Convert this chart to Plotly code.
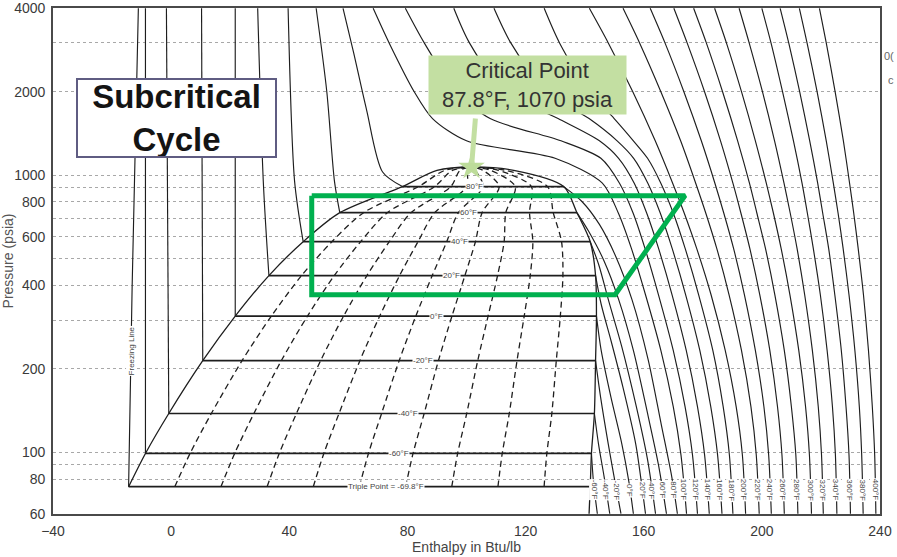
import numpy as np
import plotly.graph_objects as go

# ---------------- axis ticks ----------------
X_TICKS = [-40, 0, 40, 80, 120, 160, 200, 240]
Y_TICKS_LABELED = [60, 80, 100, 200, 400, 600, 800, 1000, 2000, 4000]
Y_GRID_ONLY = [90, 300, 500, 700, 900, 3000]

# ---------------- saturation dome ----------------
SAT_LABELS = ["Triple Point = -69.8°F", "-60°F", "-40°F", "-20°F", "0°F", "20°F", "40°F", "60°F", "80°F"]
SAT_P = [75.1, 99, 138, 214, 310, 434, 575, 732, 909]          # psia
SAT_HL = [-14.4, -8.7, -0.8, 10.7, 21.7, 33.1, 44.7, 57.1, 78.3]  # sat. liquid, Btu/lb
SAT_HV = [141.9, 142.3, 143.3, 143.7, 144.0, 143.7, 141.9, 137.4, 132.9]  # sat. vapour
SAT_LABEL_H = [72.7, 77.3, 80.3, 85.3, 90.0, 95.0, 97.7, 100.7, 102.7]

DOME_TOP_P = [1040]
DOME_TOP_HL = [90.0]
DOME_TOP_HV = [116.0]
CRIT_H = 101.7
CRIT_P = 1070
SUBLIM_H = [141.5]
SUBLIM_P = [60]

FREEZE_H = [-14.4, -13.2, -11.1]
FREEZE_P = [75.1, 400, 4000]

QUALITY = [0.1, 0.2, 0.3, 0.4, 0.5, 0.6, 0.7, 0.8, 0.9]

# ---------------- sub-cooled liquid branches (sat. liquid -> top) ----------------
LIQ_M60_H = [-8.7, -8.7];              LIQ_M60_P = [99, 4000]
LIQ_M40_H = [-0.8, -1.6];              LIQ_M40_P = [138, 4000]
LIQ_M20_H = [10.7, 10.3];              LIQ_M20_P = [214, 4000]
LIQ_0_H = [21.7, 21.7];                LIQ_0_P = [310, 4000]
LIQ_20_H = [33.1, 31.2, 29.3];         LIQ_20_P = [434, 949, 4000]
LIQ_40_H = [44.7, 41.8, 39.6];         LIQ_40_P = [575, 949, 4000]
LIQ_60_H = [57.1, 55.3, 52.7, 49.1];   LIQ_60_P = [732, 949, 2000, 4000]
LIQ_80_H = [78.3, 71.6, 66.2, 61.8, 58.2]; LIQ_80_P = [909, 1026, 1714, 2760, 4000]

# ---------------- superheated vapour branches (sat. vapour -> bottom) ----------------
VAP_M60_H = [142.3, 143.0, 144.3];                        VAP_M60_P = [99, 78, 60]
VAP_M40_H = [143.3, 144.7, 146.6, 148.5];                 VAP_M40_P = [138, 107, 81.5, 60]
VAP_M20_H = [143.7, 145.4, 148.0, 150.3, 152.3];          VAP_M20_P = [214, 158, 107, 78, 60]
VAP_0_H = [144.0, 145.6, 148.9, 152.6, 155.0, 156.5];     VAP_0_P = [310, 233, 158, 107, 78, 60]
VAP_20_H = [143.7, 145.6, 149.0, 153.0, 157.3, 159.2, 160.6]; VAP_20_P = [434, 342, 251, 171, 107, 78, 60]
VAP_40_H = [141.9, 144.8, 148.0, 152.5, 157.5, 161.3, 164.0]; VAP_40_P = [575, 474, 356, 242, 146, 94, 60]
VAP_60_H = [137.4, 141.5, 146.5, 151.5, 156.5, 161.5, 165.0, 167.7]; VAP_60_P = [732, 623, 492, 356, 233, 135, 90, 60]
VAP_80_H = [132.9, 139.0, 145.0, 150.5, 156.0, 161.5, 166.0, 169.5, 171.4]
VAP_80_P = [909, 805, 664, 510, 356, 216, 125, 81.5, 60]

# ---------------- supercritical isotherms (top -> bottom) ----------------
P_SC_LOW = [4000, 3000, 2000, 1600, 1330, 1150, 935, 730, 545, 370, 233, 146, 98, 60]
H_100F = [68.4, 73.8, 82.3, 88.5, 100.0, 130.0, 146.0, 151.4, 155.8, 160.6, 165.8, 170.0, 172.6, 174.5]
H_120F = [79.3, 85.7, 96.5, 108.0, 132.0, 145.5, 151.8, 156.4, 160.4, 165.0, 170.0, 174.0, 176.5, 178.2]
H_140F = [95.7, 101.0, 113.0, 131.0, 145.0, 151.5, 156.8, 161.0, 165.0, 169.6, 174.4, 178.2, 180.6, 182.2]
H_160F = [109.3, 115.0, 127.0, 141.5, 151.0, 156.6, 161.4, 165.6, 169.6, 174.2, 179.0, 182.7, 185.0, 186.5]
H_180F = [126.3, 131.5, 141.5, 150.0, 156.5, 161.3, 165.8, 170.0, 174.0, 178.6, 183.4, 186.9, 189.0, 190.2]

P_SC_HIGH = [4000, 3000, 2000, 1330, 935, 730, 545, 370, 233, 146, 98, 60]
H_200F = [141.6, 148.0, 156.3, 163.9, 169.8, 173.7, 177.9, 182.8, 187.6, 191.3, 193.4, 194.5]
H_220F = [153.0, 158.6, 165.8, 172.5, 177.6, 181.0, 184.7, 188.9, 193.1, 196.3, 198.1, 199.1]
H_240F = [162.2, 167.2, 173.6, 179.5, 184.1, 187.1, 190.4, 194.1, 197.8, 200.7, 202.3, 203.2]
H_260F = [170.2, 174.7, 180.6, 186.0, 190.2, 192.9, 195.9, 199.3, 202.7, 205.3, 206.8, 207.6]
H_280F = [176.9, 181.2, 186.7, 191.8, 195.8, 198.3, 201.2, 204.4, 207.6, 210.0, 211.5, 212.2]
H_300F = [184.0, 188.0, 193.1, 197.8, 201.5, 203.9, 206.5, 209.5, 212.5, 214.8, 216.1, 216.8]
H_320F = [192.3, 195.7, 200.2, 204.3, 207.5, 209.6, 211.9, 214.5, 217.1, 219.1, 220.2, 220.8]
H_340F = [200.0, 203.1, 207.0, 210.7, 213.6, 215.4, 217.4, 219.8, 222.1, 223.9, 224.9, 225.4]
H_360F = [206.2, 209.1, 212.8, 216.2, 218.9, 220.6, 222.6, 224.7, 226.9, 228.5, 229.5, 230.0]
H_380F = [212.7, 215.3, 218.7, 221.8, 224.2, 225.8, 227.5, 229.5, 231.5, 233.0, 233.8, 234.3]
H_400F = [219.5, 221.8, 224.8, 227.6, 229.7, 231.1, 232.6, 234.4, 236.1, 237.4, 238.2, 238.6]

# highlighted cycle region (green trapezoid)
TRAP_H = [47.6, 174.0, 150.3, 47.6, 47.6]
TRAP_P = [843, 843, 370, 370, 843]

LABEL_P = 73  # pressure at which the vertical isotherm labels sit

# ---------------- build figure ----------------
INK = "#1e1e1e"
FONT = "Arial, Liberation Sans, sans-serif"
fig = go.Figure()


def add_line(h, p, width=1.15, dash=None, shape="spline", color=INK):
    fig.add_trace(go.Scatter(
        x=h, y=p, mode="lines", hoverinfo="skip", showlegend=False,
        line=dict(color=color, width=width, dash=dash, shape=shape,
                  smoothing=0.8 if shape == "spline" else None)))


# freezing line
add_line(FREEZE_H, FREEZE_P, shape="linear")

# dome
dome_h = SAT_HL + DOME_TOP_HL + [CRIT_H] + DOME_TOP_HV[::-1] + SAT_HV[::-1] + SUBLIM_H
dome_p = SAT_P + DOME_TOP_P + [CRIT_P] + DOME_TOP_P[::-1] + SAT_P[::-1] + SUBLIM_P
add_line(dome_h, dome_p, width=1.3)

# constant-quality lines inside the dome
for q in QUALITY:
    qh = [hl + q * (hv - hl) for hl, hv in zip(SAT_HL + DOME_TOP_HL, SAT_HV + DOME_TOP_HV)] + [CRIT_H]
    qp = SAT_P + DOME_TOP_P + [CRIT_P]
    add_line(qh, qp, width=1.3, dash="6px,4px")

# two-phase isotherms (horizontal)
for hl, hv, p in zip(SAT_HL, SAT_HV, SAT_P):
    add_line([hl, hv], [p, p], width=1.7, shape="linear")

# liquid branches
for h, p in [(LIQ_M60_H, LIQ_M60_P), (LIQ_M40_H, LIQ_M40_P), (LIQ_M20_H, LIQ_M20_P),
             (LIQ_0_H, LIQ_0_P), (LIQ_20_H, LIQ_20_P), (LIQ_40_H, LIQ_40_P),
             (LIQ_60_H, LIQ_60_P), (LIQ_80_H, LIQ_80_P)]:
    add_line(h, p)

superheat = [
    (-60, VAP_M60_H, VAP_M60_P), (-40, VAP_M40_H, VAP_M40_P), (-20, VAP_M20_H, VAP_M20_P),
    (0, VAP_0_H, VAP_0_P), (20, VAP_20_H, VAP_20_P), (40, VAP_40_H, VAP_40_P),
    (60, VAP_60_H, VAP_60_P), (80, VAP_80_H, VAP_80_P),
    (100, H_100F, P_SC_LOW), (120, H_120F, P_SC_LOW), (140, H_140F, P_SC_LOW),
    (160, H_160F, P_SC_LOW), (180, H_180F, P_SC_LOW),
    (200, H_200F, P_SC_HIGH), (220, H_220F, P_SC_HIGH), (240, H_240F, P_SC_HIGH),
    (260, H_260F, P_SC_HIGH), (280, H_280F, P_SC_HIGH), (300, H_300F, P_SC_HIGH),
    (320, H_320F, P_SC_HIGH), (340, H_340F, P_SC_HIGH), (360, H_360F, P_SC_HIGH),
    (380, H_380F, P_SC_HIGH), (400, H_400F, P_SC_HIGH),
]
annotations = []
for t, h, p in superheat:
    add_line(h, p)
    lp = np.log10(np.array(p, dtype=float))[::-1]
    lx = float(np.interp(np.log10(LABEL_P), lp, np.array(h, dtype=float)[::-1]))
    annotations.append(dict(x=lx, y=np.log10(LABEL_P), xref="x", yref="y", text=f"{t}°F",
                            textangle=90, showarrow=False, bgcolor="white", borderpad=0,
                            font=dict(size=8, color="#444", family=FONT)))

# green cycle outline
fig.add_trace(go.Scatter(x=TRAP_H, y=TRAP_P, mode="lines", hoverinfo="skip", showlegend=False,
                         line=dict(color="#00b04f", width=5)))

# critical point burst
fig.add_trace(go.Scatter(x=[CRIT_H], y=[CRIT_P], mode="markers", hoverinfo="skip", showlegend=False,
                         marker=dict(symbol="star", size=20, color="#bddc9a",
                                     line=dict(width=0))))

# labels on two-phase isotherms
for lab, lh, p in zip(SAT_LABELS, SAT_LABEL_H, SAT_P):
    annotations.append(dict(x=lh, y=np.log10(p), xref="x", yref="y", text=lab, showarrow=False,
                            bgcolor="white", borderpad=0, font=dict(size=8, color="#444", family=FONT)))

annotations.append(dict(x=-13.6, y=np.log10(233), xref="x", yref="y", text="Freezing Line",
                        textangle=-90, showarrow=False, bgcolor="white", borderpad=0,
                        font=dict(size=8, color="#444", family=FONT)))

# callout tail from critical point to its box
annotations.append(dict(x=CRIT_H, y=np.log10(CRIT_P), xref="x", yref="y", text="", showarrow=True,
                        arrowhead=0, arrowwidth=5, arrowcolor="#c3dfa2", ax=4, ay=-50,
                        axref="pixel", ayref="pixel", standoff=4))

annotations.append(dict(x=0.5738, y=0.8475, xref="paper", yref="paper",
                        xanchor="center", yanchor="middle",
                        text="Critical Point<br>87.8°F, 1070 psia", showarrow=False,
                        width=197, height=58, bgcolor="#c3dfa2", borderpad=0,
                        font=dict(size=22, color="#333", family=FONT)))

annotations.append(dict(x=0.149, y=0.7835, xref="paper", yref="paper",
                        xanchor="center", yanchor="middle",
                        text="<b>Subcritical</b><br><b>Cycle</b>", showarrow=False,
                        width=197, height=76, bgcolor="white", bordercolor="#5f5c82",
                        borderwidth=2, borderpad=0,
                        font=dict(size=33, color="#141414", family=FONT)))

# small text fragments at the right edge (kept fully inside the window)
annotations.append(dict(x=1.0193, y=0.9055, xref="paper", yref="paper", text="0(", showarrow=False,
                        xanchor="right", yanchor="middle", font=dict(size=11, color="#666", family=FONT)))
annotations.append(dict(x=1.0193, y=0.857, xref="paper", yref="paper", text="c", showarrow=False,
                        xanchor="right", yanchor="middle", font=dict(size=11, color="#666", family=FONT)))

y_tickvals = sorted(Y_TICKS_LABELED + Y_GRID_ONLY)
y_ticktext = [str(v) if v in Y_TICKS_LABELED else "" for v in y_tickvals]

fig.update_layout(
    width=897, height=557,
    margin=dict(l=53, r=17, t=8, b=43, autoexpand=False),
    paper_bgcolor="white", plot_bgcolor="white",
    font=dict(family=FONT, color="#3a3a3a", size=14),
    annotations=annotations,
    xaxis=dict(range=[-40, 240], tickvals=X_TICKS, showgrid=False, zeroline=False,
               showline=True, mirror=True, linecolor="#4a4a4a", linewidth=1.6,
               ticks="", ticklabelstandoff=3, tickfont=dict(size=14, color="#3a3a3a"),
               ticklabeloverflow="allow",
               title=dict(text="Enthalpy in Btu/lb", standoff=2,
                          font=dict(size=14, color="#444")), automargin=False),
    yaxis=dict(type="log", range=[np.log10(60) - 0.001, np.log10(4000) + 0.001], tickmode="array",
               tickvals=y_tickvals, ticktext=y_ticktext, showgrid=True,
               gridcolor="#a8a8a8", griddash="dot", gridwidth=1, zeroline=False,
               showline=True, mirror=True, linecolor="#4a4a4a", linewidth=1.6,
               ticks="", ticklabelstandoff=3, tickfont=dict(size=14, color="#3a3a3a"),
               ticklabeloverflow="allow",
               title=dict(text="Pressure (psia)", standoff=4,
                          font=dict(size=14, color="#555")), automargin=False),
)

fig.write_html("out.html", config={"displayModeBar": False},
               post_script="document.body.style.margin='0px';")
